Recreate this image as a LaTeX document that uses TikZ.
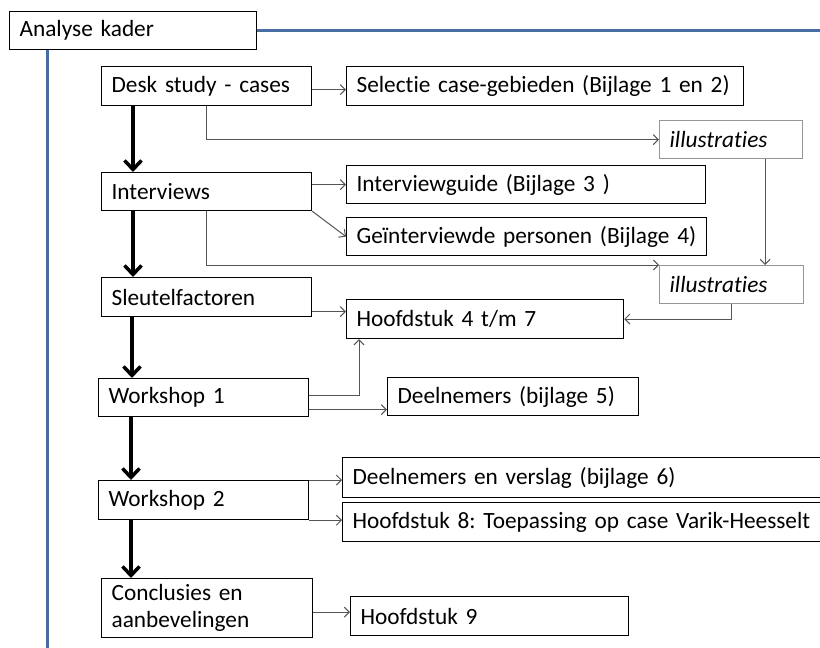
\documentclass[tikz,border=0pt]{standalone}
\usepackage{fontspec}
\setmainfont{Carlito}[RawFeature={-liga}]
\frenchspacing
\usetikzlibrary{arrows.meta}
\definecolor{kaderblue}{RGB}{70,110,165}
\definecolor{conn}{RGB}{85,85,85}
\definecolor{illgray}{RGB}{150,150,150}
\newcommand\boxfont{\fontsize{23.3}{27}\selectfont}
\tikzset{
  box/.style={draw=black, line width=1.2pt, rectangle, anchor=north west,
    inner xsep=10pt, inner ysep=0pt, align=left, font=\boxfont, fill=white},
  illbox/.style={box, draw=illgray, font=\boxfont\itshape},
  thin/.style={draw=conn, line width=1pt, -{Straight Barb[length=5pt,width=10pt]}},
  bigarrow/.style={draw=black, line width=3.5pt, -{Straight Barb[length=9pt,width=17pt]}},
  kader/.style={draw=kaderblue, line width=3pt}
}
\begin{document}
\begin{tikzpicture}[x=1pt,y=-1pt]
\useasboundingbox (0,0) rectangle (820,648);
\clip (0,0) rectangle (820,648);
\fill[white] (0,0) rectangle (820,648);
% blue frame lines
\node[box, minimum height=38pt, text width=227pt] (ak) at (9,11) {Analyse kader};
\coordinate (kr) at (822,30);
\coordinate (kb) at (47,650);
\draw[kader] (ak.east |- kr) -- (kr);
\draw[kader] (kb |- ak.south) -- (kb);
% left column
\node[box, minimum height=39pt, text width=190pt] (desk) at (101,66) {\mbox{Desk study - cases}};
\node[box, minimum height=38pt, text width=190pt] (intv) at (101,172) {Interviews};
\node[box, minimum height=39pt, text width=190pt] (sleu) at (101,277) {Sleutelfactoren};
\node[box, minimum height=38pt, text width=190pt] (ws1) at (98,378) {Workshop 1};
\node[box, minimum height=39pt, text width=190pt] (ws2) at (98,480) {Workshop 2};
\node[box, minimum height=59pt, text width=191pt] (concl) at (101,578) {Conclusies en\\aanbevelingen};
% right column
\node[box, minimum height=39pt, text width=377pt] (sel) at (346,66) {\mbox{Selectie case-gebieden (Bijlage 1 en 2)}};
\node[illbox, minimum height=38pt, text width=123pt] (ill1) at (659,120) {illustraties};
\node[box, minimum height=38pt, text width=339pt] (guide) at (346,165) {\mbox{Interviewguide (Bijlage 3 )}};
\node[box, minimum height=38pt, text width=340pt] (gei) at (346,217) {\mbox{Geïnterviewde personen (Bijlage 4)}};
\node[illbox, minimum height=38pt, text width=124pt] (ill2) at (659,265) {illustraties};
\node[box, minimum height=39pt, text width=257pt] (h47) at (346,299) {\mbox{Hoofdstuk 4 t/m 7}};
\node[box, minimum height=38pt, text width=231pt] (deel) at (387,377) {\mbox{Deelnemers (bijlage 5)}};
\node[box, minimum height=40pt, text width=480pt] (dv) at (342,457) {\mbox{Deelnemers en verslag (bijlage 6)}};
\node[box, minimum height=39pt, text width=480pt] (h8) at (342,502) {\mbox{Hoofdstuk 8: Toepassing op case Varik-Heesselt}};
\node[box, minimum height=39pt, text width=258pt] (h9) at (350,596) {\mbox{Hoofdstuk 9}};
% thick flow arrows
\draw[bigarrow] ([xshift=32pt]desk.south west) -- ([xshift=32pt]desk.south west |- intv.north);
\draw[bigarrow] ([xshift=32pt]intv.south west) -- ([xshift=32pt]intv.south west |- sleu.north);
\draw[bigarrow] ([xshift=31pt]sleu.south west) -- ([xshift=31pt]sleu.south west |- ws1.north);
\draw[bigarrow] ([xshift=33pt]ws1.south west) -- ([xshift=33pt]ws1.south west |- ws2.north);
\draw[bigarrow] ([xshift=33pt]ws2.south west) -- ([xshift=33pt]ws2.south west |- concl.north);
% thin connectors
\draw[thin] ([yshift=-3.5pt]desk.east) -- ([yshift=-3.5pt]desk.east -| sel.west);
\draw[thin] (desk.south) |- (ill1.west);
\draw[thin] ([xshift=34pt]ill1.south) -- ([xshift=34pt]ill1.south |- ill2.north);
\draw[thin] (intv.east |- guide.west) -- (guide.west);
\draw[thin] (intv.south east) -- (gei.west);
\draw[thin] (intv.south) |- (ill2.north west);
\draw[thin] (ill2.south) |- (h47.east);
\draw[thin] ([yshift=-14.5pt]sleu.east) -- ([yshift=-14.5pt]sleu.east -| h47.west);
\draw[thin] ([yshift=2pt]ws1.east) -| ([xshift=13pt]h47.south west);
\draw[thin] ([yshift=-12pt]ws1.east) -- ([yshift=-12pt]ws1.east -| deel.west);
\draw[thin] (ws2.north east) -- (ws2.north east -| dv.west);
\draw[thin] (ws2.south east) -- (ws2.south east -| h8.west);
\draw[thin] ([yshift=-4pt]concl.east) -- ([yshift=-4pt]concl.east -| h9.west);
\end{tikzpicture}
\end{document}
